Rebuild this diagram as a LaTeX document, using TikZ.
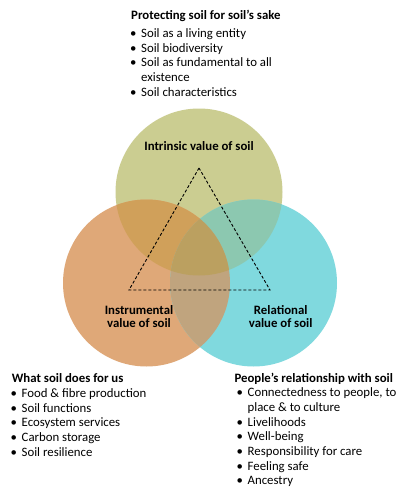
\documentclass[tikz,border=0pt]{standalone}
\usepackage{fontspec}
\setmainfont{Carlito}
\usepackage{xcolor}
\usepackage{tikz}
\definecolor{SVIntr}{HTML}{CBCD91}
\definecolor{SVInst}{HTML}{DFA878}
\definecolor{SVRel}{HTML}{80D9DE}
\definecolor{SVIntrInst}{HTML}{D0A05A}
\definecolor{SVIntrRel}{HTML}{8CC8B0}
\definecolor{SVInstRel}{HTML}{C0A47E}
\definecolor{SVAll}{HTML}{BBA060}
\newcommand{\svbul}{\makebox[11pt][l]{\textbullet}}
\newcommand{\svgap}{\hspace*{11pt}}
\tikzset{
  headtext/.style={anchor=base west,inner sep=0pt,font=\fontsize{12.8}{14.7}\selectfont\bfseries},
  listtext/.style={anchor=base west,inner sep=0pt,font=\fontsize{12.8}{14.7}\selectfont},
  valuetext/.style={anchor=base,inner sep=0pt,font=\fontsize{12.8}{13.3}\selectfont\bfseries}
}

\begin{document}
\begin{tikzpicture}[x=1pt,y=-1pt]
\path[use as bounding box] (0,0) rectangle (405,496);
\fill[white] (0,0) rectangle (405,496);
\def\svrad{83.5}
\coordinate (cIntr) at (199,192);
\coordinate (cInst) at (146.5,283);
\coordinate (cRel) at (253.5,283);
% three discs
\fill[SVIntr] (cIntr) circle[radius=\svrad];
\fill[SVInst] (cInst) circle[radius=\svrad];
\fill[SVRel] (cRel) circle[radius=\svrad];
% overlaps
\begin{scope}
\clip (cIntr) circle[radius=\svrad];
\fill[SVIntrInst] (cInst) circle[radius=\svrad];
\fill[SVIntrRel] (cRel) circle[radius=\svrad];
\end{scope}
\begin{scope}
\clip (cInst) circle[radius=\svrad];
\fill[SVInstRel] (cRel) circle[radius=\svrad];
\end{scope}
\begin{scope}
\clip (cIntr) circle[radius=\svrad];
\clip (cInst) circle[radius=\svrad];
\fill[SVAll] (cRel) circle[radius=\svrad];
\end{scope}
% dashed triangle
\coordinate (apex) at (199,168);
\coordinate (baseL) at (129,290);
\coordinate (baseR) at (270,290);
\draw[black,line width=.9pt,dash pattern=on 3pt off 2pt] (apex) -- (baseL) -- (baseR) -- cycle;
% labels in the discs
\node[valuetext] (intrlbl) at (199,150) {Intrinsic value of soil};
\node[valuetext] (instlbl) at (139,314) {\begin{tabular}[t]{@{}c@{}}Instrumental\\value of soil\end{tabular}};
\node[valuetext] (rellbl) at (280.7,314) {\begin{tabular}[t]{@{}c@{}}Relational\\value of soil\end{tabular}};
% top list
\node[headtext] (intrhead) at (131,19.3) {Protecting soil for soil’s sake};
\node[listtext] (intrlist) at (130,37.3) {\begin{tabular}[t]{@{}l@{}}
\svbul Soil as a living entity\\
\svbul Soil biodiversity\\
\svbul Soil as fundamental to all\\
\svgap existence\\
\svbul Soil characteristics
\end{tabular}};
% bottom left list
\node[headtext] (insthead) at (11.7,382.7) {What soil does for us};
\node[listtext] (instlist) at (10.5,397.3) {\begin{tabular}[t]{@{}l@{}}
\svbul Food \& fibre production\\
\svbul Soil functions\\
\svbul Ecosystem services\\
\svbul Carbon storage\\
\svbul Soil resilience
\end{tabular}};
% bottom right list
\node[headtext] (relhead) at (234.3,382.7) {People’s relationship with soil};
\node[listtext] (rellist) at (236.5,396.7) {\begin{tabular}[t]{@{}l@{}}
\svbul Connectedness to people, to\\
\svgap place \& to culture\\
\svbul Livelihoods\\
\svbul Well-being\\
\svbul Responsibility for care\\
\svbul Feeling safe\\
\svbul Ancestry
\end{tabular}};
\end{tikzpicture}
\end{document}
